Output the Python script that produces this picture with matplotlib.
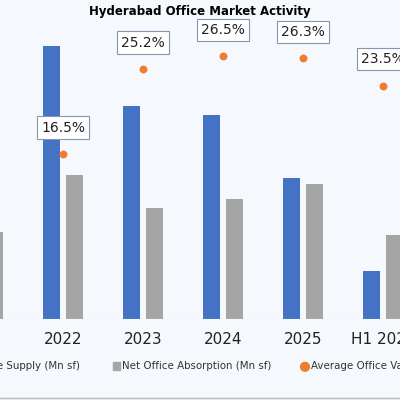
import matplotlib.pyplot as plt
import numpy as np

years = ['2021', '2022', '2023', '2024', '2025', 'H1 2026']
supply = [3.0, 9.1, 7.1, 6.8, 4.7, 1.6]
absorption = [2.9, 4.8, 3.7, 4.0, 4.5, 2.8]
vacancy = [14.0, 16.5, 25.2, 26.5, 26.3, 23.5]

BLUE = '#4472C4'
GREY = '#A5A5A5'
ORANGE = '#ED7D31'
BG = '#F5F8FC'

fig = plt.figure(figsize=(4, 4), dpi=100, facecolor=BG)
ax = fig.add_axes([0, 81 / 400, 1, 294 / 400])
ax.set_facecolor(BG)
x = np.arange(len(years))
w = 0.21
ax.bar(x - 0.144, supply, w, color=BLUE)
ax.bar(x + 0.144, absorption, w, color=GREY)
ax.set_ylim(0, 9.8)
ax.set_yticks([])
ax.set_xticks(x)
ax.set_xticklabels(years, fontsize=11, color='#222222')
ax.tick_params(axis='x', length=0, pad=9)
for s in ax.spines.values():
    s.set_visible(False)
ax.axhline(0, color='#D0D0D0', lw=0.8)

ax2 = ax.twinx()
ax2.set_ylim(-0.4, 29.7)
ax2.set_yticks([])
for s in ax2.spines.values():
    s.set_visible(False)
ax2.scatter(x, vacancy, s=22, color=ORANGE, zorder=3)
for xi, v in zip(x, vacancy):
    ax2.annotate(f'{v}%', (xi, v), xytext=(0, 19), textcoords='offset points',
                 ha='center', va='center', fontsize=10, color='#222222',
                 bbox=dict(boxstyle='square,pad=0.3', fc='white', ec='#8497B0', lw=0.8))
# set after twinx/scatter so autoscale doesn't override it
ax.set_xlim(0.2125, 5.2125)
ax2.set_xlim(0.2125, 5.2125)

fig.text(0.5, 1 - 12 / 400, 'Hyderabad Office Market Activity', ha='center', va='center',
         fontsize=8.5, fontweight='bold')
ly = 1 - 366 / 400
fig.text(80 / 400, ly, 'New Office Supply (Mn sf)', ha='right', va='center', fontsize=7.4, color='#333333')
fig.patches.append(plt.Rectangle((113 / 400, ly - 0.011), 0.018, 0.022, color=GREY, transform=fig.transFigure))
fig.text(122 / 400, ly, 'Net Office Absorption (Mn sf)', ha='left', va='center', fontsize=7.4, color='#333333')
fig.add_artist(plt.Circle((305 / 400, ly - 0.002), 0.011, color=ORANGE, transform=fig.transFigure))
fig.text(311 / 400, ly, 'Average Office Vacancy (%)', ha='left', va='center', fontsize=7.4, color='#333333')
fig.add_artist(plt.Line2D([0, 1], [2 / 400, 2 / 400], color='#BBBBBB', lw=1, transform=fig.transFigure))

fig.savefig('out.png', dpi=100, facecolor=BG)
